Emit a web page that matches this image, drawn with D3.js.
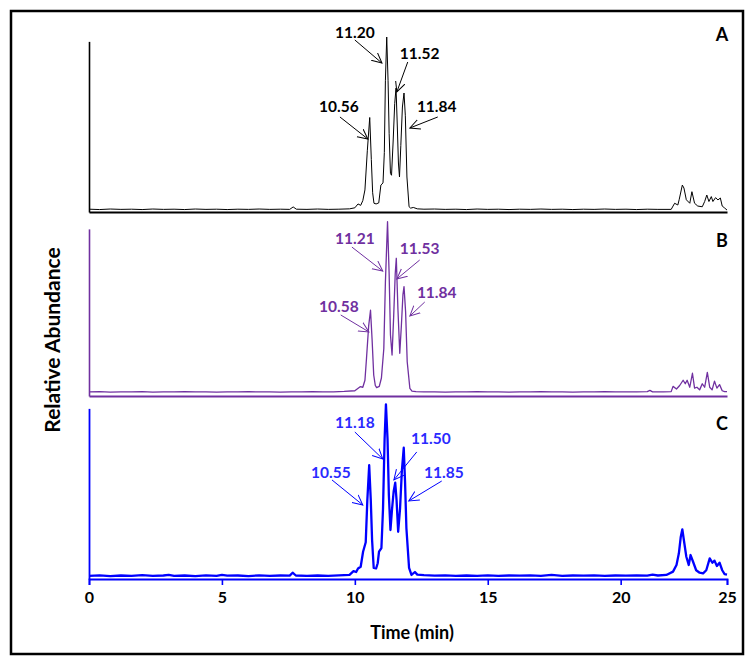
<!DOCTYPE html>
<html><head><meta charset="utf-8">
<script src="https://cdn.jsdelivr.net/npm/d3@7"></script>
<style>
body{margin:0;background:#fff}
svg{display:block}
text{font-family:Lato,'Open Sans',sans-serif;font-weight:700}
</style>
</head><body>
<svg id="chart" width="755" height="666"></svg>
<script>
// ---------------- DATA ----------------
const xTickValues = [0, 5, 10, 15, 20, 24];
const xTickLabels = ["0", "5", "10", "15", "20", "25"];
const panelLetters = ["A", "B", "C"];
const xTitle = "Time (min)";
const yTitle = "Relative Abundance";

// chromatogram traces: [time (min), relative intensity]
const traceA = [
[0.00,1.6],[0.40,1.4],[0.80,1.7],[1.20,1.5],[1.60,1.6],[2.00,1.4],[2.40,1.7],[2.80,1.5],[3.20,1.6],[3.60,1.4],
[4.00,1.7],[4.40,1.5],[4.80,1.6],[5.20,1.4],[5.60,1.6],[6.00,1.5],[6.40,1.7],[6.80,1.5],[7.20,1.6],[7.55,1.5],
[7.68,2.9],[7.80,1.6],[8.20,1.5],[8.60,1.7],[9.00,1.5],[9.40,1.6],[9.80,1.8],[10.00,2.4],[10.12,4.6],[10.22,3.8],
[10.30,6.5],[10.38,12.6],[10.47,35],[10.56,54],[10.62,30],[10.67,11],[10.72,5],[10.80,4.6],[10.90,5.2],[10.98,15.4],
[11.06,16.6],[11.11,34],[11.15,75],[11.20,100],[11.25,75],[11.29,45],[11.34,22],[11.38,21],[11.44,40],[11.50,62],
[11.55,70.8],[11.60,48],[11.64,28],[11.68,20],[11.73,38],[11.79,60],[11.85,68],[11.90,55],[11.96,20],[12.04,3],
[12.10,2.2],[12.20,2.6],[12.35,1.8],[12.60,1.6],[13.00,1.7],[13.40,1.5],[13.80,1.6],[14.20,1.4],[14.60,1.7],[15.00,1.5],
[15.40,1.6],[15.80,1.4],[16.20,1.6],[16.60,1.5],[17.00,1.7],[17.40,1.5],[17.80,1.6],[18.20,1.4],[18.60,1.6],[19.00,1.5],
[19.40,1.7],[19.80,1.5],[20.20,1.6],[20.60,1.4],[21.00,1.6],[21.40,1.5],[21.90,1.5],[22.03,5],[22.15,4],[22.20,7],
[22.32,15.4],[22.38,13.7],[22.47,7],[22.60,5],[22.68,11.6],[22.78,5],[22.90,3.4],[23.07,3],[23.16,6],[23.24,9.7],
[23.32,6],[23.41,8.8],[23.47,6],[23.57,8.2],[23.66,6.9],[23.75,8],[23.82,3.4],[23.91,2.3],[24.00,1.1]
];
const traceB = [
[0.00,2.3],[0.40,2.5],[0.80,2.2],[1.20,2.4],[1.60,2.3],[2.00,2.5],[2.40,2.2],[2.80,2.4],[3.20,2.3],[3.60,2.5],
[4.00,2.3],[4.40,2.4],[4.80,2.2],[5.20,2.4],[5.60,2.3],[6.00,2.5],[6.40,2.3],[6.80,2.4],[7.20,2.2],[7.60,2.4],
[8.00,2.3],[8.40,2.5],[8.80,2.3],[9.20,2.4],[9.60,2.6],[10.00,3.0],[10.20,5.3],[10.30,5.0],[10.38,9],[10.44,21.7],
[10.52,40],[10.59,49],[10.65,32],[10.71,12],[10.77,6],[10.82,4.8],[10.92,5.5],[11.00,10.3],[11.09,27],[11.15,65],
[11.23,99.6],[11.29,70],[11.34,35],[11.40,23.4],[11.46,45],[11.52,70],[11.56,78.7],[11.62,50],[11.69,24.4],[11.75,40],
[11.81,58],[11.85,62.5],[11.91,48],[11.97,19.6],[12.07,4.4],[12.15,2.8],[12.30,2.5],[12.60,2.3],[13.00,2.4],[13.40,2.2],
[13.80,2.4],[14.20,2.3],[14.60,2.5],[15.00,2.3],[15.40,2.4],[15.80,2.2],[16.20,2.4],[16.60,2.3],[17.00,2.5],[17.40,2.3],
[17.80,2.4],[18.20,2.2],[18.60,2.4],[19.00,2.3],[19.40,2.5],[19.80,2.3],[20.20,2.4],[20.60,2.3],[21.00,2.5],[21.10,3.2],
[21.20,2.4],[21.60,2.3],[21.90,2.5],[21.97,5.5],[22.10,4],[22.22,6],[22.35,9],[22.43,7],[22.50,9],[22.60,5],
[22.70,13],[22.78,4.5],[22.87,5],[22.97,3.5],[23.07,7],[23.16,5],[23.26,13.5],[23.35,5],[23.44,3.5],[23.53,8.5],
[23.62,4.5],[23.72,6.5],[23.82,3],[23.91,2.5],[24.00,2.5]
];
const traceC = [
[0.00,1.8],[0.40,2.1],[0.80,1.7],[1.20,2.0],[1.60,1.8],[2.00,2.2],[2.40,1.8],[2.80,2.0],[3.00,2.4],[3.20,1.8],
[3.60,2.0],[4.00,1.7],[4.40,2.1],[4.80,1.8],[5.00,2.4],[5.20,1.9],[5.60,2.0],[6.00,1.7],[6.40,2.1],[6.80,1.8],
[7.20,2.0],[7.55,1.9],[7.66,3.6],[7.78,2.0],[8.20,1.8],[8.60,2.0],[9.00,1.8],[9.40,2.1],[9.80,2.4],[9.95,4.5],
[10.05,4.0],[10.12,6],[10.22,7],[10.31,15.6],[10.41,21],[10.47,45],[10.54,65],[10.60,45],[10.65,22],[10.71,6.3],
[10.80,6],[10.86,9],[10.91,15.6],[11.00,17.7],[11.06,40],[11.12,80],[11.17,99.8],[11.23,80],[11.28,48],[11.34,28],
[11.40,40],[11.46,50],[11.52,55],[11.57,45],[11.63,27],[11.70,40],[11.77,62],[11.84,75],[11.89,55],[11.94,29],
[12.04,6.3],[12.13,2.3],[12.26,4],[12.35,2.5],[12.60,2.2],[13.00,1.9],[13.40,2.1],[13.80,1.8],[14.20,2.0],[14.60,1.8],
[15.00,2.1],[15.40,1.8],[15.80,2.0],[16.20,1.9],[16.60,2.1],[17.00,1.8],[17.40,2.3],[17.80,1.8],[18.20,2.0],[18.60,1.9],
[19.00,2.1],[19.40,1.8],[19.80,2.0],[20.20,1.9],[20.60,2.0],[21.00,1.9],[21.20,2.5],[21.40,2.0],[21.72,2.3],[21.97,4.2],
[22.10,8],[22.19,14.7],[22.26,24],[22.32,28.4],[22.38,22],[22.47,12.7],[22.56,8],[22.63,13.7],[22.72,10],[22.84,5],
[22.97,3.6],[23.10,3.2],[23.22,5],[23.35,11.8],[23.45,9.3],[23.53,10.5],[23.62,7.4],[23.72,9.3],[23.82,5],[23.91,2.8],
[24.00,2.5]
];

// peak annotations: label text, label anchor (t,v), arrow start (t,v), arrow tip (t,v) in data units
const labelsA = [
  {text:"11.20", t:10.00, v:102.9, st:10.00, sv:98.3, et:11.02, ev:85.1},
  {text:"11.52", t:12.44, v:90.9,  st:11.99, sv:85.7, et:11.58, ev:68.6},
  {text:"10.56", t:9.40,  v:60.6,  st:9.44,  sv:54.3, et:10.49, ev:41.7},
  {text:"11.84", t:13.08, v:60.6,  st:13.12, sv:54.3, et:12.07, ev:48.0}
];
const labelsB = [
  {text:"11.21", t:10.00, v:90.3, st:9.89,  sv:85.1, et:11.05, ev:71.4},
  {text:"11.53", t:12.44, v:84.6, st:12.44, sv:77.7, et:11.58, ev:66.9},
  {text:"10.58", t:9.40,  v:51.4, st:9.47,  sv:46.3, et:10.53, ev:36.6},
  {text:"11.84", t:13.08, v:59.4, st:12.63, sv:53.7, et:12.07, ev:45.7}
];
const labelsC = [
  {text:"11.18", t:10.00, v:89.7, st:10.00, sv:84.0, et:11.05, ev:68.6},
  {text:"11.50", t:12.86, v:80.6, st:12.33, sv:72.6, et:11.47, ev:56.6},
  {text:"10.55", t:9.10,  v:61.1, st:9.14,  sv:56.6, et:10.30, ev:42.3},
  {text:"11.85", t:13.35, v:61.1, st:13.27, sv:56.0, et:12.03, ev:44.6}
];

// ---------------- LAYOUT / STYLE ----------------
const W = 755, H = 666;
const xLeft = 89, xRight = 727;
const panelHeight = 175;
const panels = [
  {data: traceA, labels: labelsA, base: 212, color: "#000000", textColor: "#000000", lw: 1.0, axisW: 2.2, vAxisW: 1.6, yAxisTop: 97.5, letterV: 101.7},
  {data: traceB, labels: labelsB, base: 396, color: "#7030a0", textColor: "#7030a0", lw: 1.3, axisW: 2.2, vAxisW: 1.6, yAxisTop: 95.5, letterV: 88.6},
  {data: traceC, labels: labelsC, base: 579, color: "#0000ff", textColor: "#2a2aff", lw: 2.3, axisW: 1.8, vAxisW: 1.8, yAxisTop: 97.5, letterV: 89.1}
];

const svg = d3.select("#chart");
svg.append("rect").attr("width", W).attr("height", H).attr("fill", "#fff");
svg.append("rect").attr("x", 11).attr("y", 11).attr("width", 732).attr("height", 643)
  .attr("fill", "none").attr("stroke", "#000").attr("stroke-width", 2.5);

const x = d3.scaleLinear().domain([0, 24]).range([xLeft, xRight]);

const defs = svg.append("defs");
panels.forEach((p, i) => {
  defs.append("marker").attr("id", "arr" + i)
    .attr("markerUnits", "userSpaceOnUse")
    .attr("markerWidth", 13).attr("markerHeight", 13)
    .attr("refX", 10).attr("refY", 5.5).attr("orient", "auto")
    .append("path").attr("d", "M0,0.6 L10,5.5 L0,10.4")
    .attr("fill", "none").attr("stroke", p.color).attr("stroke-width", 1);
});

panels.forEach((p, i) => {
  const y = d3.scaleLinear().domain([0, 100]).range([p.base, p.base - panelHeight]);
  const g = svg.append("g");

  // trace
  g.append("path").datum(p.data)
    .attr("fill", "none").attr("stroke", p.color).attr("stroke-width", p.lw)
    .attr("stroke-linejoin", "round")
    .attr("d", d3.line().x(d => x(d[0])).y(d => y(d[1])));

  // bottom axis
  const isLast = i === panels.length - 1;
  const xAxis = d3.axisBottom(x).tickValues(xTickValues).tickSizeOuter(0);
  if (isLast) {
    xAxis.tickSize(6).tickPadding(7).tickFormat((d, k) => xTickLabels[k]);
  } else {
    xAxis.tickSize(0).tickFormat(() => "");
  }
  const ax = g.append("g").attr("transform", `translate(0,${p.base})`).call(xAxis);
  ax.select(".domain").attr("stroke", p.color).attr("stroke-width", p.axisW);
  ax.selectAll(".tick line").attr("stroke", p.color).attr("stroke-width", 1.6);
  ax.selectAll(".tick text").attr("fill", "#000").style("font-size", "16px")
    .style("font-family", "Lato,'Open Sans',sans-serif").style("font-weight", 700);

  // left axis (vertical line only)
  const yAxis = d3.axisLeft(d3.scaleLinear().domain([0, p.yAxisTop]).range([y(0), y(p.yAxisTop)]))
    .tickValues([]).tickSizeOuter(0);
  const ay = g.append("g").attr("transform", `translate(${xLeft},0)`).call(yAxis);
  ay.select(".domain").attr("stroke", p.color).attr("stroke-width", p.vAxisW);

  // annotations
  g.selectAll("line.arrow").data(p.labels).join("line").attr("class", "arrow")
    .attr("x1", d => x(d.st)).attr("y1", d => y(d.sv))
    .attr("x2", d => x(d.et)).attr("y2", d => y(d.ev))
    .attr("stroke", p.color).attr("stroke-width", 1)
    .attr("marker-end", `url(#arr${i})`);
  g.selectAll("text.lab").data(p.labels).join("text").attr("class", "lab")
    .attr("x", d => x(d.t)).attr("y", d => y(d.v))
    .attr("text-anchor", "middle").attr("dy", "0.36em")
    .attr("fill", p.textColor).style("font-size", "15.5px")
    .text(d => d.text);

  // panel letter
  g.append("text").attr("x", 722).attr("y", y(p.letterV))
    .attr("text-anchor", "middle").attr("dy", "0.36em")
    .attr("fill", "#000").style("font-size", "18px").text(panelLetters[i]);
});

// axis titles
svg.append("text").attr("x", 412).attr("y", 633).attr("text-anchor", "middle")
  .attr("dy", "0.36em").style("font-size", "18px").attr("fill", "#000").text(xTitle);
svg.append("text").attr("transform", "translate(52,340) rotate(-90)")
  .attr("text-anchor", "middle").attr("dy", "0.36em")
  .style("font-size", "21px").attr("fill", "#000").text(yTitle);
</script>
</body></html>
